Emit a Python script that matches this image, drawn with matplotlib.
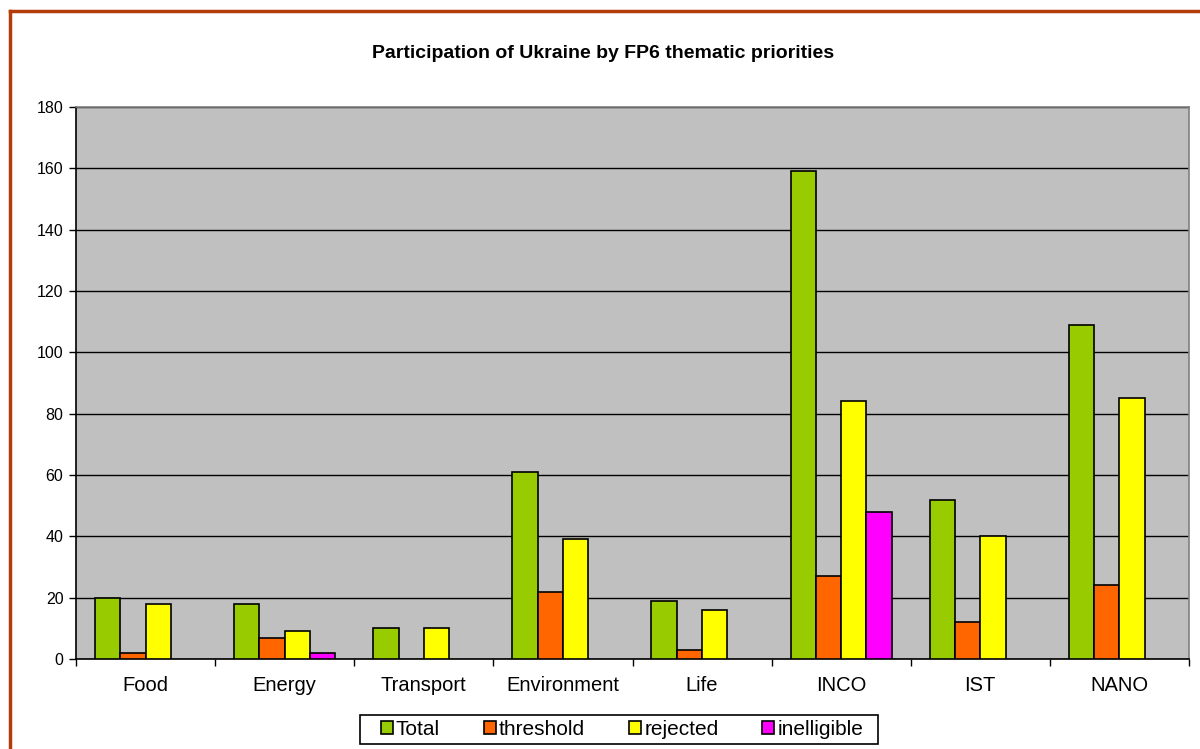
import numpy as np
import matplotlib
matplotlib.use("Agg")
import matplotlib.pyplot as plt
from matplotlib.patches import Patch, Rectangle
from matplotlib.lines import Line2D

plt.rcParams['font.family'] = ['Liberation Sans', 'DejaVu Sans']

# =========================
# DATA
# =========================
categories = ["Food", "Energy", "Transport", "Environment", "Life", "INCO", "IST", "NANO"]
series_names = ["Total", "threshold", "rejected", "inelligible"]
total = [20, 18, 10, 61, 19, 159, 52, 109]
threshold = [2, 7, 0, 22, 3, 27, 12, 24]
rejected = [18, 9, 10, 39, 16, 84, 40, 85]
inelligible = [0, 2, 0, 0, 0, 48, 0, 0]
yticks = [0, 20, 40, 60, 80, 100, 120, 140, 160, 180]

colors = ["#99CC00", "#FF6600", "#FFFF00", "#FF00FF"]

# =========================
# FIGURE
# =========================
fig = plt.figure(figsize=(12, 7.49), dpi=100)
ax = fig.add_axes([76 / 1200, 1 - 659 / 749, (1189 - 76) / 1200, (659 - 107) / 749])
ax.set_facecolor("#C0C0C0")

x = np.arange(len(categories))
width = 1 / 5.5
data = [total, threshold, rejected, inelligible]
for i, (vals, col) in enumerate(zip(data, colors)):
    vals = np.array(vals, dtype=float)
    mask = vals > 0
    ax.bar(x[mask] + (i - 1.5) * width, vals[mask], width=width, color=col,
           edgecolor="black", linewidth=1.2, zorder=3)

ax.set_xlim(-0.5, len(categories) - 0.5)
ax.set_ylim(0, 180)
ax.set_yticks(yticks)
ax.tick_params(axis="y", labelsize=11.5, length=5, width=1, direction="out", pad=4)
ax.yaxis.grid(True, color="black", linewidth=1)
ax.set_axisbelow(True)

ax.set_xticks(x)
ax.set_xticklabels(categories, fontsize=14.5)
ax.set_xticks(np.arange(len(categories) + 1) - 0.5, minor=True)
ax.tick_params(axis="x", which="major", length=0, pad=12)
ax.tick_params(axis="x", which="minor", length=5, width=1, direction="out")

for s in ["left", "bottom"]:
    ax.spines[s].set_color("black")
    ax.spines[s].set_linewidth(1.2)
for s in ["top", "right"]:
    ax.spines[s].set_color("#808080")
    ax.spines[s].set_linewidth(1.2)

fig.text(603 / 1200, 1 - 53 / 749, "Participation of Ukraine by FP6 thematic priorities",
         ha="center", va="center", fontsize=14, fontweight="bold")

# legend box drawn separately so its padding matches
fig.add_artist(Rectangle((360 / 1200, 1 - 744 / 749), (878 - 360) / 1200, 29 / 749,
                         transform=fig.transFigure, facecolor="white", edgecolor="black",
                         linewidth=1.2, zorder=4))
handles = [Patch(facecolor=c, edgecolor="black", linewidth=1.2) for c in colors]
leg = fig.legend(handles, series_names, loc="center", bbox_to_anchor=(622 / 1200, 1 - 729.5 / 749),
                 ncol=4, fontsize=15, frameon=False,
                 handlelength=0.58, handleheight=0.58, handletextpad=0.15, columnspacing=2.1,
                 borderpad=0, borderaxespad=0)
leg.set_zorder(5)

# outer chart border (top and left visible)
fig.add_artist(Line2D([10 / 1200, 10 / 1200], [0, 1 - 11 / 749], transform=fig.transFigure,
                      color="#B33C0A", linewidth=2.5))
fig.add_artist(Line2D([10 / 1200, 1], [1 - 11 / 749, 1 - 11 / 749], transform=fig.transFigure,
                      color="#B33C0A", linewidth=2.5))

fig.savefig("out.png", dpi=100)
